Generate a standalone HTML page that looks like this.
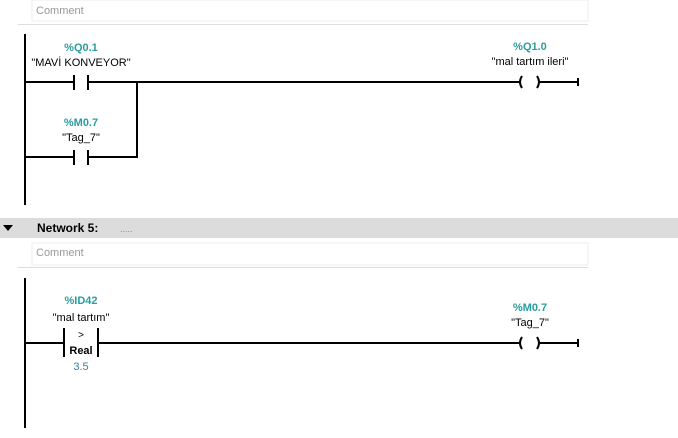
<!DOCTYPE html>
<html><head><style>
body{margin:0;background:#fff;width:678px;height:433px;overflow:hidden;font-family:"Liberation Sans",sans-serif;}
svg text{font-family:"Liberation Sans",sans-serif;}
</style></head><body>
<svg width="678" height="433" viewBox="0 0 678 433">
<!-- comment 1 -->
<rect x="32" y="0" width="556" height="21" fill="#fff" stroke="#ececec"/>
<text x="36" y="14" font-size="11" fill="#999">Comment</text>
<line x1="18" y1="24.5" x2="588" y2="24.5" stroke="#ddd"/>
<g stroke="#000" stroke-width="2" fill="none">
<line x1="25" y1="34" x2="25" y2="205"/>
<line x1="25" y1="82" x2="74" y2="82"/>
<line x1="74" y1="75" x2="74" y2="90"/>
<line x1="88" y1="75" x2="88" y2="90"/>
<line x1="88" y1="82" x2="519" y2="82"/>
<line x1="25" y1="157" x2="74" y2="157"/>
<line x1="74" y1="150" x2="74" y2="165"/>
<line x1="88" y1="150" x2="88" y2="165"/>
<line x1="88" y1="157" x2="137" y2="157"/>
<line x1="137" y1="82" x2="137" y2="158"/>
<path d="M522 76 Q518 82 522 88"/>
<path d="M537 76 Q541 82 537 88"/>
<line x1="540" y1="82" x2="578" y2="82"/>
<line x1="578" y1="78" x2="578" y2="86"/>
</g>
<g font-size="11" text-anchor="middle">
<text x="81" y="51" fill="#2a9d9d" font-weight="bold">%Q0.1</text>
<text x="81" y="66" fill="#000">"MAVİ KONVEYOR"</text>
<text x="81" y="126" fill="#2a9d9d" font-weight="bold">%M0.7</text>
<text x="81" y="141" fill="#000">"Tag_7"</text>
<text x="530" y="50" fill="#2a9d9d" font-weight="bold">%Q1.0</text>
<text x="530" y="65" fill="#000">"mal tartım ileri"</text>
</g>
<!-- network 5 -->
<rect x="0" y="218" width="678" height="20" fill="#dcdcdc"/>
<path d="M3 225 L13 225 L8 231 Z" fill="#000"/>
<text x="37" y="232" font-size="12" font-weight="bold" fill="#000">Network 5:</text>
<text x="120" y="232" font-size="9" fill="#888">.....</text>
<rect x="32" y="243" width="556" height="22" fill="#fff" stroke="#ececec"/>
<text x="36" y="256" font-size="11" fill="#999">Comment</text>
<line x1="18" y1="267.5" x2="588" y2="267.5" stroke="#ddd"/>
<g stroke="#000" stroke-width="2" fill="none">
<line x1="25" y1="278" x2="25" y2="428"/>
<line x1="25" y1="343" x2="64" y2="343"/>
<line x1="64" y1="328" x2="64" y2="357"/>
<line x1="98" y1="328" x2="98" y2="357"/>
<line x1="98" y1="343" x2="519" y2="343"/>
<path d="M522 337 Q518 343 522 349"/>
<path d="M537 337 Q541 343 537 349"/>
<line x1="540" y1="343" x2="578" y2="343"/>
<line x1="578" y1="339" x2="578" y2="347"/>
</g>
<g font-size="11" text-anchor="middle">
<text x="81" y="304" fill="#2a9d9d" font-weight="bold">%ID42</text>
<text x="81" y="321" fill="#000">"mal tartım"</text>
<text x="81" y="338" fill="#000" font-size="10">&gt;</text>
<text x="81" y="354" fill="#000" font-weight="bold">Real</text>
<text x="81" y="370" fill="#3a7fa0">3.5</text>
<text x="530" y="311" fill="#2a9d9d" font-weight="bold">%M0.7</text>
<text x="530" y="326" fill="#000">"Tag_7"</text>
</g>
</svg>
</body></html>
